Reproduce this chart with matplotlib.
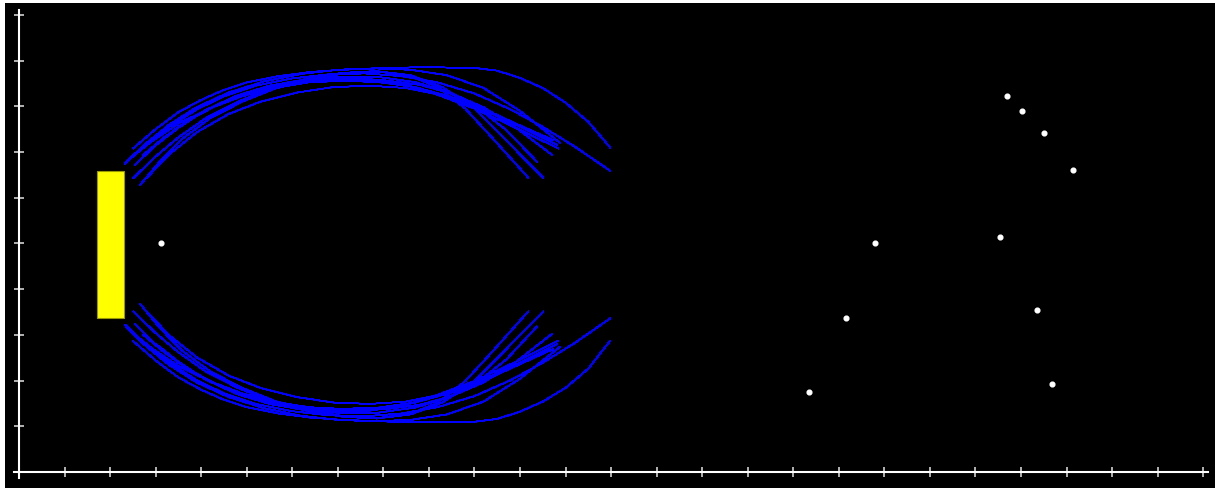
import matplotlib
matplotlib.use('Agg')
import matplotlib.pyplot as plt
from matplotlib.patches import Rectangle

#  Axis ticks
x_ticks = list(range(1, 27))
y_ticks = list(range(1, 11))

#  Source block
block_x, block_y = 1.71, 3.36
block_w, block_h = 0.60, 3.23

#  Particles
dot_x = [3.12, 17.35, 18.16, 18.79, 21.54, 21.69, 22.02, 22.35, 22.50, 22.68, 23.15]
dot_y = [5.00, 1.75, 3.36, 5.00, 5.15, 8.23, 7.90, 3.54, 7.42, 1.93, 6.61]

#  Upper trajectories
top_x = [
    [2.51, 3.0, 3.5, 4.0, 4.5, 5.0, 5.7, 6.4, 7.1, 7.9, 8.6, 9.3, 10.0, 10.5, 11.0, 11.5, 12.0, 12.5, 12.98],
    [2.33, 2.8, 3.3, 3.9, 4.5, 5.2, 6.0, 6.8, 7.6, 8.4, 9.2, 10.0, 10.8, 11.5, 12.2, 12.98],
    [2.66, 3.1, 3.6, 4.2, 4.9, 5.6, 6.4, 7.2, 7.9, 8.6, 9.2, 9.8, 10.4, 11.18],
    [2.51, 3.0, 3.5, 4.1, 4.8, 5.5, 6.3, 7.1, 7.85, 8.6, 9.3, 10.0, 10.7, 11.51],
    [2.55, 3.0, 3.5, 4.1, 4.8, 5.5, 6.3, 7.1, 7.9, 8.7, 9.4, 10.0, 10.7, 11.37],
    [2.44, 2.9, 3.5, 4.2, 4.9, 5.6, 6.4, 7.2, 8.0, 8.8, 9.5, 10.2, 10.9, 11.70],
    [2.73, 3.2, 3.8, 4.5, 5.2, 6.0, 6.8, 7.6, 8.4, 9.2, 10.0, 10.8, 11.84],
    [3.02, 3.5, 4.1, 4.8, 5.5, 6.3, 7.1, 7.9, 8.7, 9.5, 10.3, 11.0, 11.73],
    [2.80, 3.3, 3.9, 4.6, 5.3, 6.1, 6.9, 7.7, 8.5, 9.3, 10.1, 10.9, 11.81],
    [2.36, 2.8, 3.3, 3.9, 4.6, 5.4, 6.2, 7.0, 7.8, 8.6, 9.4, 10.2, 11.0, 11.88],
]
top_y = [
    [7.08, 7.50, 7.87, 8.14, 8.36, 8.52, 8.66, 8.75, 8.80, 8.83, 8.85, 8.85, 8.84, 8.78, 8.62, 8.40, 8.08, 7.66, 7.10],
    [6.75, 7.17, 7.55, 7.93, 8.22, 8.45, 8.61, 8.70, 8.72, 8.66, 8.52, 8.28, 7.93, 7.55, 7.12, 6.59],
    [6.28, 6.80, 7.30, 7.74, 8.10, 8.38, 8.60, 8.73, 8.76, 8.66, 8.42, 7.95, 7.30, 6.44],
    [6.43, 6.90, 7.32, 7.74, 8.10, 8.38, 8.60, 8.73, 8.77, 8.68, 8.42, 7.95, 7.25, 6.44],
    [6.72, 7.15, 7.55, 7.92, 8.24, 8.45, 8.59, 8.65, 8.64, 8.53, 8.32, 8.02, 7.48, 6.79],
    [6.86, 7.22, 7.62, 7.96, 8.22, 8.40, 8.53, 8.58, 8.57, 8.47, 8.28, 7.98, 7.54, 6.94],
    [6.94, 7.33, 7.74, 8.10, 8.35, 8.53, 8.60, 8.61, 8.50, 8.25, 7.95, 7.58, 7.08],
    [7.16, 7.53, 7.92, 8.22, 8.41, 8.52, 8.56, 8.53, 8.42, 8.20, 7.90, 7.58, 7.26],
    [6.43, 6.95, 7.43, 7.83, 8.10, 8.30, 8.42, 8.45, 8.40, 8.24, 7.96, 7.60, 7.16],
    [6.79, 7.20, 7.60, 7.98, 8.30, 8.55, 8.71, 8.80, 8.83, 8.80, 8.68, 8.40, 7.90, 7.20],
]

#  Lower trajectories
bottom_x = [
    [2.51, 3.0, 3.5, 4.0, 4.5, 5.0, 5.7, 6.4, 7.1, 7.9, 8.6, 9.3, 10.0, 10.5, 11.0, 11.5, 12.0, 12.5, 12.98],
    [2.33, 2.8, 3.3, 3.9, 4.5, 5.2, 6.0, 6.8, 7.6, 8.4, 9.2, 10.0, 10.8, 11.5, 12.2, 12.98],
    [2.66, 3.1, 3.6, 4.2, 4.9, 5.6, 6.4, 7.2, 7.9, 8.6, 9.2, 9.8, 10.4, 11.18],
    [2.51, 3.0, 3.5, 4.1, 4.8, 5.5, 6.3, 7.1, 7.85, 8.6, 9.3, 10.0, 10.7, 11.51],
    [2.55, 3.0, 3.5, 4.1, 4.8, 5.5, 6.3, 7.1, 7.9, 8.7, 9.4, 10.0, 10.7, 11.37],
    [2.44, 2.9, 3.5, 4.2, 4.9, 5.6, 6.4, 7.2, 8.0, 8.8, 9.5, 10.2, 10.9, 11.70],
    [2.73, 3.2, 3.8, 4.5, 5.2, 6.0, 6.8, 7.6, 8.4, 9.2, 10.0, 10.8, 11.84],
    [3.02, 3.5, 4.1, 4.8, 5.5, 6.3, 7.1, 7.9, 8.7, 9.5, 10.3, 11.0, 11.73],
    [2.80, 3.3, 3.9, 4.6, 5.3, 6.1, 6.9, 7.7, 8.5, 9.3, 10.1, 10.9, 11.81],
    [2.36, 2.8, 3.3, 3.9, 4.6, 5.4, 6.2, 7.0, 7.8, 8.6, 9.4, 10.2, 11.0, 11.88],
]
bottom_y = [
    [2.86, 2.44, 2.07, 1.80, 1.58, 1.42, 1.28, 1.19, 1.14, 1.11, 1.09, 1.09, 1.10, 1.16, 1.32, 1.54, 1.84, 2.26, 2.87],
    [3.22, 2.77, 2.39, 2.01, 1.72, 1.49, 1.33, 1.24, 1.22, 1.28, 1.42, 1.66, 2.01, 2.39, 2.82, 3.36],
    [3.68, 3.14, 2.64, 2.20, 1.84, 1.56, 1.34, 1.21, 1.18, 1.28, 1.52, 1.99, 2.64, 3.51],
    [3.51, 3.04, 2.62, 2.20, 1.84, 1.56, 1.34, 1.21, 1.17, 1.26, 1.52, 1.99, 2.69, 3.51],
    [3.24, 2.79, 2.39, 2.02, 1.70, 1.49, 1.35, 1.29, 1.30, 1.41, 1.62, 1.92, 2.46, 3.18],
    [3.09, 2.72, 2.32, 1.98, 1.72, 1.54, 1.41, 1.36, 1.37, 1.47, 1.66, 1.96, 2.40, 3.02],
    [3.00, 2.61, 2.20, 1.84, 1.59, 1.41, 1.34, 1.33, 1.44, 1.69, 1.99, 2.36, 2.87],
    [2.79, 2.41, 2.02, 1.72, 1.53, 1.42, 1.38, 1.41, 1.52, 1.74, 2.04, 2.36, 2.69],
    [3.51, 2.99, 2.51, 2.11, 1.84, 1.64, 1.52, 1.49, 1.54, 1.70, 1.98, 2.34, 2.79],
    [3.16, 2.74, 2.34, 1.96, 1.64, 1.39, 1.23, 1.14, 1.11, 1.14, 1.26, 1.54, 2.04, 2.74],
]

fig = plt.figure(figsize=(12.15, 4.88), dpi=100, facecolor='white')
ax = fig.add_axes([5 / 1215, 0, 1210 / 1215, 485 / 488])
ax.set_facecolor('black')

#  Trajectories (1 px, crisp like the original screen capture)
for xs, ys in zip(top_x + bottom_x, top_y + bottom_y):
    ax.plot(xs, ys, color='#0000ff', lw=0.7, antialiased=False)

#  Block and particles
ax.add_patch(Rectangle((block_x, block_y), block_w, block_h, facecolor='#ffff00',
                       edgecolor='#9a9a00', lw=0.8, zorder=3))
ax.plot(dot_x, dot_y, 'o', color='white', ms=3.4, mec='white', zorder=4)

#  Axes through the origin
for side in ['top', 'right']:
    ax.spines[side].set_visible(False)
for side in ['left', 'bottom']:
    ax.spines[side].set_position(('data', 0))
    ax.spines[side].set_color('white')
    ax.spines[side].set_linewidth(1.5)
ax.spines['bottom'].set_bounds(-0.1, 26.1)
ax.spines['left'].set_bounds(-0.13, 10.1)
ax.set_xticks(x_ticks)
ax.set_yticks(y_ticks)
ax.tick_params(direction='inout', length=7, width=1.2, colors='#d0d0d0',
               labelbottom=False, labelleft=False)

ax.set_xlim(-0.307, 26.26)
ax.set_ylim(-0.35, 10.26)

fig.savefig('out.png', dpi=100, facecolor=fig.get_facecolor())
